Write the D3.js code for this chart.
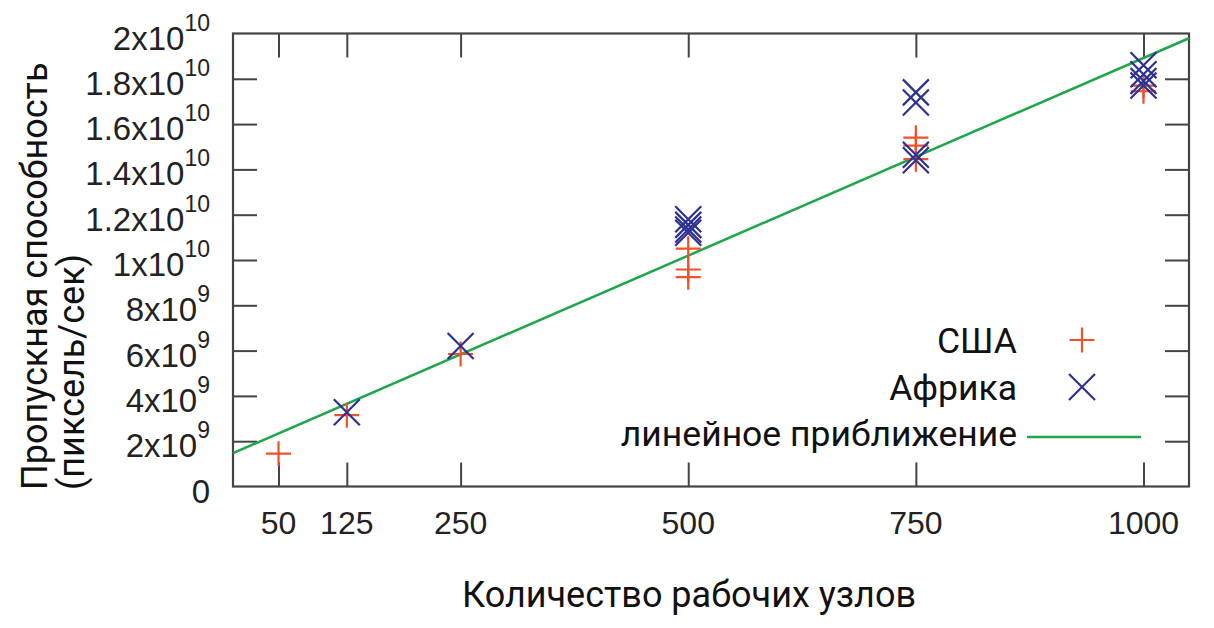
<!DOCTYPE html>
<html><head><meta charset="utf-8">
<script src="https://cdn.jsdelivr.net/npm/d3@7/dist/d3.min.js"></script>
<style>body{margin:0;background:#fff}svg{display:block}</style>
</head><body>
<svg id="c" width="1214" height="628"></svg>
<script>
const xTicks = [50, 125, 250, 500, 750, 1000];
const yTicks = [0, 2e9, 4e9, 6e9, 8e9, 1e10, 1.2e10, 1.4e10, 1.6e10, 1.8e10, 2e10];
const yTickMant = ["0", "2", "4", "6", "8", "1", "1.2", "1.4", "1.6", "1.8", "2"];
const yTickExp = ["", "9", "9", "9", "9", "10", "10", "10", "10", "10", "10"];
const usaNodes = [50, 125, 250, 500, 500, 500, 750, 750, 750, 1000, 1000];
const usaValues = [1.45e9, 3.15e9, 5.85e9, 10.5e9, 9.58e9, 9.24e9, 15.4e9, 15.05e9, 14.45e9, 17.7e9, 17.45e9];
const africaNodes = [125, 250, 500, 500, 500, 500, 750, 750, 750, 750, 1000, 1000, 1000, 1000];
const africaValues = [3.28e9, 6.2e9, 11.8e9, 11.55e9, 11.35e9, 11.2e9, 17.4e9, 16.95e9, 14.65e9, 14.4e9, 18.6e9, 18.2e9, 17.9e9, 17.7e9];
const fitNodes = [0, 1050];
const fitValues = [1.47e9, 19.79e9];
const legendLabels = ["США", "Африка", "линейное приближение"];
const xTitle = "Количество рабочих узлов";
const yTitle = ["Пропускная способность", "(пиксель/сек)"];

const cOrange = "#f0502a", cBlue = "#2e3192", cGreen = "#1fa64a", cAxis = "#444";
const L = 233, R = 1189, T = 33.5, B = 486.5;
const x = d3.scaleLinear().domain([0, 1050]).range([L, R]);
const y = d3.scaleLinear().domain([0, 2e10]).range([B, T]);
const svg = d3.select("#c");
const tickLen = 24;

// axes with inward ticks
const gB = svg.append("g").attr("transform", `translate(0,${B})`)
  .call(d3.axisBottom(x).tickValues(xTicks).tickSizeInner(-tickLen).tickSizeOuter(0).tickFormat(""));
const gT = svg.append("g").attr("transform", `translate(0,${T})`)
  .call(d3.axisTop(x).tickValues(xTicks).tickSizeInner(-tickLen).tickSizeOuter(0).tickFormat(""));
const gL = svg.append("g").attr("transform", `translate(${L},0)`)
  .call(d3.axisLeft(y).tickValues(yTicks.slice(1, -1)).tickSizeInner(-tickLen).tickSizeOuter(0).tickFormat(""));
const gR = svg.append("g").attr("transform", `translate(${R},0)`)
  .call(d3.axisRight(y).tickValues(yTicks.slice(1, -1)).tickSizeInner(-tickLen).tickSizeOuter(0).tickFormat(""));
[gB, gT, gL, gR].forEach(g => {
  g.select(".domain").remove();
  g.selectAll(".tick line").attr("stroke", cAxis).attr("stroke-width", 2);
});
svg.append("rect").attr("x", L).attr("y", T).attr("width", R - L).attr("height", B - T)
  .attr("fill", "none").attr("stroke", cAxis).attr("stroke-width", 2.2);

// x tick labels
svg.append("g").selectAll("text").data(xTicks).join("text")
  .attr("x", d => x(d)).attr("y", 534)
  .attr("text-anchor", "middle").attr("font-family", "Liberation Sans, Arial, sans-serif")
  .attr("font-size", 32).attr("fill", "#222").text(d => d);

// y tick labels
const yl = svg.append("g").selectAll("text").data(yTicks).join("text")
  .attr("x", 210).attr("y", d => y(d) + 16)
  .attr("text-anchor", "end").attr("font-family", "Liberation Sans, Arial, sans-serif")
  .attr("font-size", 33).attr("fill", "#222");
yl.each(function(d, i) {
  const t = d3.select(this);
  if (yTickExp[i] === "") { t.text(yTickMant[i]); return; }
  t.append("tspan").text(yTickMant[i] + "x10");
  t.append("tspan").attr("dy", -19).attr("font-size", 23).text(yTickExp[i]);
});

// fit line
svg.append("path").datum(fitNodes.map((n, i) => [n, fitValues[i]]))
  .attr("d", d3.line().x(d => x(d[0])).y(d => y(d[1])))
  .attr("fill", "none").attr("stroke", cGreen).attr("stroke-width", 2.5);

// markers
const ps = 12.5, xs = 13;
const plusPath = `M${-ps},0H${ps}M0,${-ps}V${ps}`;
const crossPath = `M${-xs},${-xs}L${xs},${xs}M${-xs},${xs}L${xs},${-xs}`;
svg.append("g").selectAll("path").data(usaNodes.map((n, i) => [n, usaValues[i]])).join("path")
  .attr("transform", d => `translate(${x(d[0])},${y(d[1])})`).attr("d", plusPath)
  .attr("stroke", cOrange).attr("stroke-width", 2.2).attr("fill", "none");
svg.append("g").selectAll("path").data(africaNodes.map((n, i) => [n, africaValues[i]])).join("path")
  .attr("transform", d => `translate(${x(d[0])},${y(d[1])})`).attr("d", crossPath)
  .attr("stroke", cBlue).attr("stroke-width", 2.2).attr("fill", "none");

// legend
const lg = svg.append("g");
const lgY = [352.5, 399.5, 446];
const lgMid = [340, 387, 437];
lg.selectAll("text").data(legendLabels).join("text")
  .attr("x", 1017).attr("y", (d, i) => lgY[i]).attr("text-anchor", "end")
  .attr("font-family", "Roboto, sans-serif").attr("font-size", 35.5).attr("fill", "#111").text(d => d);
lg.append("path").attr("transform", `translate(1082,${lgMid[0]})`).attr("d", plusPath)
  .attr("stroke", cOrange).attr("stroke-width", 2.2).attr("fill", "none");
lg.append("path").attr("transform", `translate(1082,${lgMid[1]})`).attr("d", crossPath)
  .attr("stroke", cBlue).attr("stroke-width", 2.2).attr("fill", "none");
lg.append("line").attr("x1", 1027).attr("x2", 1141).attr("y1", lgMid[2]).attr("y2", lgMid[2])
  .attr("stroke", cGreen).attr("stroke-width", 2.5);

// axis titles
svg.append("text").attr("x", 689).attr("y", 607).attr("text-anchor", "middle")
  .attr("font-family", "Roboto, sans-serif").attr("font-size", 36).attr("fill", "#111").text(xTitle);
const yt = svg.append("text").attr("transform", "translate(0,490) rotate(-90)")
  .attr("font-family", "Roboto, sans-serif").attr("font-size", 36).attr("fill", "#111");
yt.append("tspan").attr("x", 0).attr("y", 47).text(yTitle[0]);
yt.append("tspan").attr("x", 0).attr("y", 84).text(yTitle[1]);
</script>
</body></html>
